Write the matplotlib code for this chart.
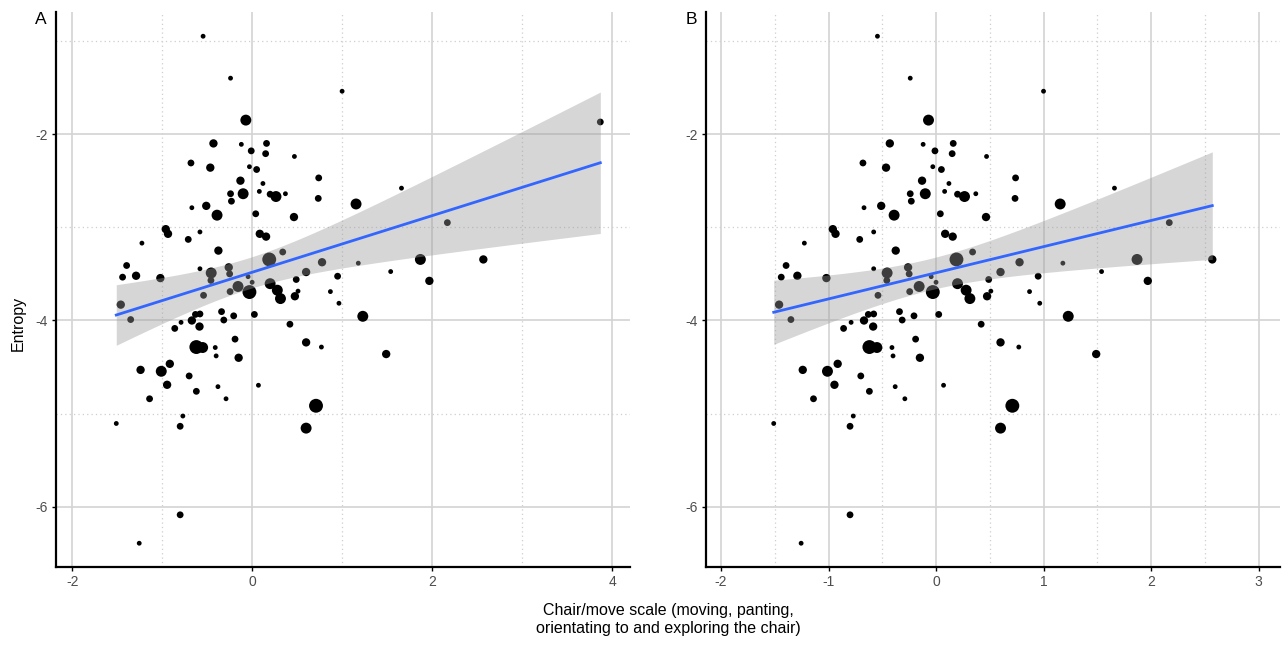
import numpy as np
import matplotlib
matplotlib.use("Agg")
import matplotlib.pyplot as plt
from matplotlib.ticker import MultipleLocator

plt.rcParams['font.family'] = ['Liberation Sans', 'DejaVu Sans']

# chair/move scale score, entropy and point size class (1 = smallest .. 5 = biggest)
chair_scale = [-0.545, -0.24, 1.00, -0.07, -0.43, -0.12, 0.16, -0.01, 0.15, 0.47,
               -0.68, -0.465, -0.03, 0.05, 0.74, -0.13, 0.12, 1.66, -0.24, -0.10,
               0.08, 0.20, 0.265, 0.37, 0.735, -0.23, 1.155, -0.67, -0.51, -0.39,
               0.04, 0.465, 2.17, -0.96, -0.935, -1.225, -0.71, -0.58, 0.085, 0.155,
               -0.375, 0.34, 0.19, 0.777, 0.60, -1.395, -1.44, -1.29, -1.02, -0.58,
               -0.455, -0.458, -0.26, -0.25, -0.045, 0.0, 0.20, 0.49, -0.157, -0.03,
               -0.245, -0.54, 1.18, 1.87, 2.57, 1.54, 0.95, 1.97, 0.87, 0.965,
               1.23, -1.46, -1.35, 0.28, 0.315, 0.475, 0.51, 0.025, -0.205, -0.34,
               -0.315, -0.58, -0.63, -0.67, -0.585, -0.79, -0.86, 0.42, -0.62, -0.55,
               -0.41, -0.40, -0.19, -0.15, 0.60, 0.77, 1.49, -1.24, -1.01, -0.915,
               -0.945, -0.70, -0.62, -0.38, -0.29, 0.07, -1.14, 0.71, 0.60, -1.51,
               -0.77, -0.80, -0.80, -1.255]
entropy = [-0.95, -1.40, -1.54, -1.85, -2.10, -2.11, -2.10, -2.18, -2.21, -2.24,
           -2.31, -2.36, -2.35, -2.38, -2.47, -2.50, -2.53, -2.58, -2.64, -2.64,
           -2.615, -2.645, -2.67, -2.64, -2.69, -2.72, -2.75, -2.79, -2.77, -2.87,
           -2.855, -2.89, -2.95, -3.02, -3.07, -3.17, -3.13, -3.05, -3.07, -3.10,
           -3.25, -3.265, -3.345, -3.375, -3.48, -3.41, -3.535, -3.52, -3.545, -3.445,
           -3.49, -3.57, -3.43, -3.50, -3.53, -3.59, -3.605, -3.56, -3.635, -3.695,
           -3.69, -3.73, -3.385, -3.345, -3.345, -3.475, -3.525, -3.575, -3.69, -3.815,
           -3.955, -3.83, -3.99, -3.675, -3.765, -3.74, -3.685, -3.935, -3.95, -3.905,
           -3.995, -3.93, -3.935, -4.0, -4.065, -4.02, -4.085, -4.04, -4.285, -4.29,
           -4.29, -4.38, -4.20, -4.40, -4.235, -4.285, -4.36, -4.53, -4.545, -4.465,
           -4.69, -4.595, -4.76, -4.71, -4.84, -4.695, -4.84, -4.915, -5.155, -5.105,
           -5.025, -5.135, -6.085, -6.39]
size_class = [1, 1, 1, 4, 3, 1, 2, 2, 2, 1,
              2, 3, 1, 2, 2, 3, 1, 1, 2, 4,
              1, 2, 4, 1, 2, 2, 4, 1, 3, 4,
              2, 3, 2, 3, 3, 1, 2, 1, 3, 3,
              3, 2, 5, 3, 3, 2, 2, 3, 3, 1,
              4, 2, 3, 2, 1, 1, 4, 2, 4, 5,
              2, 2, 1, 4, 3, 1, 2, 3, 1, 1,
              4, 3, 2, 4, 4, 3, 1, 2, 2, 2,
              2, 2, 2, 3, 3, 1, 2, 2, 5, 4,
              1, 1, 2, 3, 3, 1, 3, 3, 4, 3,
              3, 2, 2, 1, 1, 1, 2, 5, 4, 1,
              1, 2, 2, 1]

# the single high scorer, only kept in panel A
outlier_scale = 3.87
outlier_entropy = -1.87
outlier_size = 2

area_for_class = {1: 12, 2: 24, 3: 36, 4: 62, 5: 100}


def draw_panel(ax, x, y, s, xlim, letter):
    x = np.asarray(x)
    y = np.asarray(y)
    areas = [area_for_class[c] for c in s]

    # linear fit + 95% confidence band (like geom_smooth(method="lm"))
    n = len(x)
    slope, icpt = np.polyfit(x, y, 1)
    resid = y - (icpt + slope * x)
    sigma = np.sqrt(np.sum(resid ** 2) / (n - 2))
    sxx = np.sum((x - x.mean()) ** 2)
    xs = np.linspace(x.min(), x.max(), 80)
    fit = icpt + slope * xs
    se = sigma * np.sqrt(1.0 / n + (xs - x.mean()) ** 2 / sxx)
    tcrit = 1.98

    ax.scatter(x, y, s=areas, color="black", edgecolors="none", zorder=3)
    ax.fill_between(xs, fit - tcrit * se, fit + tcrit * se, color="#999999",
                    alpha=0.4, linewidth=0, zorder=4)
    ax.plot(xs, fit, color="#3366FF", linewidth=2, zorder=5)

    ax.set_xlim(*xlim)
    ax.set_ylim(-6.645, -0.69)
    ax.xaxis.set_major_locator(MultipleLocator(2 if xlim[1] > 3.5 else 1))
    ax.xaxis.set_minor_locator(MultipleLocator(1 if xlim[1] > 3.5 else 0.5))
    ax.yaxis.set_major_locator(MultipleLocator(2))
    ax.yaxis.set_minor_locator(MultipleLocator(1))

    ax.grid(which="major", color="#d3d3d3", linewidth=1.2, zorder=0)
    ax.grid(which="minor", color="#cfcfcf", linewidth=0.9,
            linestyle=(0, (1, 2.5)), zorder=0)
    ax.set_axisbelow(True)

    for side in ["top", "right"]:
        ax.spines[side].set_visible(False)
    for side in ["left", "bottom"]:
        ax.spines[side].set_linewidth(1.6)
        ax.spines[side].set_color("black")
    ax.tick_params(which="major", length=3, width=1, color="black",
                   labelsize=10, labelcolor="#4d4d4d", pad=3)
    ax.tick_params(which="minor", length=0)
    ax.set_xticklabels([f"{t:g}" for t in ax.get_xticks()])
    ax.set_yticklabels([f"{t:g}" for t in ax.get_yticks()])

    ax.text(-15 / 574, 1 - 7 / 555, letter, transform=ax.transAxes, ha="center",
            va="center", fontsize=12.5)


fig = plt.figure(figsize=(12.87, 6.46), dpi=100)
ax_a = fig.add_axes([56 / 1287, 79 / 646, 574 / 1287, 555 / 646])
ax_b = fig.add_axes([706 / 1287, 79 / 646, 574 / 1287, 555 / 646])

draw_panel(ax_a, chair_scale + [outlier_scale], entropy + [outlier_entropy],
           size_class + [outlier_size], (-2.18, 4.2), "A")
draw_panel(ax_b, chair_scale, entropy, size_class, (-2.14, 3.2), "B")

fig.text(18 / 1287, 1 - 323 / 646, "Entropy", rotation=90, ha="center",
         va="center", fontsize=11.5)
fig.text(668 / 1287, 1 - 620 / 646,
         "Chair/move scale (moving, panting,\norientating to and exploring the chair)",
         ha="center", va="center", fontsize=11.5, linespacing=1.25)

fig.savefig("out.png", dpi=100)
